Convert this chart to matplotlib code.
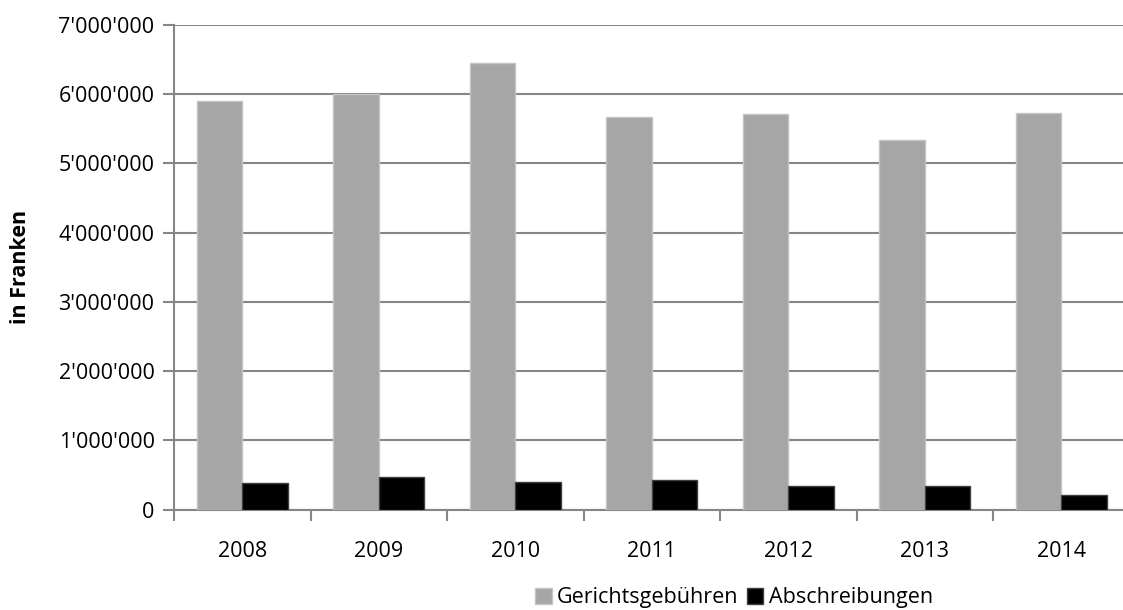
import numpy as np
import matplotlib.pyplot as plt
from matplotlib.ticker import FuncFormatter, FixedLocator

plt.rcParams['font.family'] = ['Open Sans', 'DejaVu Sans']

years = ['2008', '2009', '2010', '2011', '2012', '2013', '2014']
gebuehren = [5900000, 6010000, 6450000, 5670000, 5710000, 5340000, 5730000]
abschreibungen = [390000, 465000, 400000, 420000, 345000, 345000, 210000]

fig = plt.figure(figsize=(11.23, 6.10), dpi=100)
ax = fig.add_axes([174 / 1123, 100.5 / 610, (1129.7 - 174) / 1123, 484.5 / 610])

x = np.arange(len(years))
w = 1 / 3
ax.bar(x - w / 2, gebuehren, w, color='#a6a6a6', edgecolor='#c4c4c4', linewidth=1,
       label='Gerichtsgebühren', zorder=3)
ax.bar(x + w / 2, abschreibungen, w, color='#000000', edgecolor='#404040', linewidth=1,
       label='Abschreibungen', zorder=3)

ax.set_xlim(-0.5, len(years) - 0.5)
ax.set_ylim(0, 7000000)
ax.set_yticks(np.arange(0, 7000001, 1000000))
ax.yaxis.set_major_formatter(FuncFormatter(lambda v, p: f"{int(v):,}".replace(',', "'")))
ax.grid(axis='y', color='#868686', linewidth=1.5, zorder=0)

fs = 15.5

# category labels in the middle, tick marks on the boundaries
ax.set_xticks(x)
ax.set_xticklabels(years)
ax.xaxis.set_minor_locator(FixedLocator(np.arange(-0.5, len(years), 1)))
ax.tick_params(axis='x', which='major', length=0, pad=23, labelsize=fs)
ax.tick_params(axis='x', which='minor', length=8, width=1.5, color='#868686')
ax.tick_params(axis='y', length=8, width=1.5, color='#868686', labelsize=fs, pad=6)

for s in ['top', 'right']:
    ax.spines[s].set_visible(False)
for s in ['left', 'bottom']:
    ax.spines[s].set_color('#868686')
    ax.spines[s].set_linewidth(1.5)

ax.set_ylabel('in Franken', fontsize=fs, fontweight='bold')
ax.yaxis.set_label_coords(-(174 - 31) / (1129.7 - 174), 0.5)

fig.legend(loc='center', bbox_to_anchor=(734 / 1123, 12 / 610), ncol=2, frameon=False,
           fontsize=fs, handlelength=0.75, handleheight=0.75, handletextpad=0.25,
           columnspacing=0.4, borderaxespad=0)

fig.savefig('out.png', dpi=100)
